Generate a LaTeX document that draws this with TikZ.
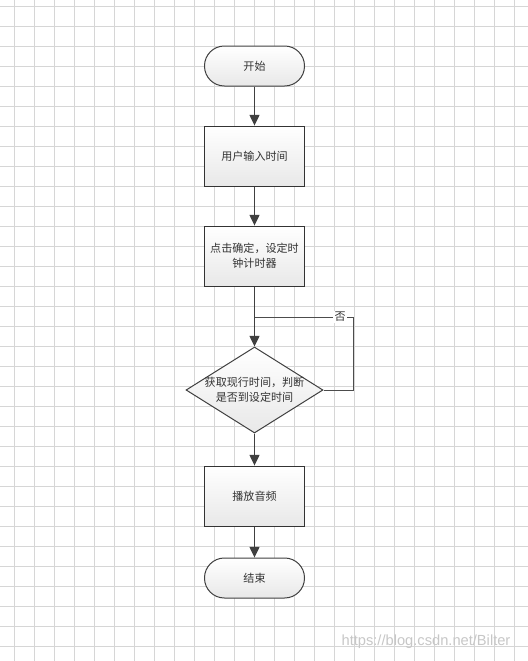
\documentclass[tikz,border=0pt]{standalone}
\usepackage{fontspec}
\newfontfamily\cjk{Noto Sans CJK SC}
\newfontfamily\wmfont{Liberation Sans}
\usetikzlibrary{shapes.geometric,arrows.meta}

\begin{document}
\begin{tikzpicture}[x=0.75pt,y=-0.75pt,
  grid line/.style={draw=black!16, line width=0.75pt},
  flow text/.style={font=\cjk\fontsize{8.3}{11}\selectfont, text=black!80},
  terminal/.style={flow text, draw=black!75, line width=0.75pt, rounded corners=14.9pt,
    minimum width=75pt, minimum height=30pt, inner sep=0pt, top color=white, bottom color=black!9},
  process/.style={flow text, draw=black!80, line width=0.75pt, align=center,
    minimum width=75pt, minimum height=45pt, inner sep=0pt, top color=white, bottom color=black!9},
  decision/.style={diamond, draw=black!75, line width=0.75pt, minimum width=102.75pt,
    minimum height=64.5pt, inner sep=0pt, top color=white, bottom color=black!9},
  line/.style={draw=black!75, line width=1pt},
  thin line/.style={draw=black!70, line width=0.7pt},
  arrow/.style={line, -{Triangle[width=7.5pt,length=8pt]}}]
\useasboundingbox (0,0) rectangle (528,661);
\fill[white] (0,0) rectangle (528,661);
% background grid
\foreach \gx in {14,34,...,514} \draw[grid line] (\gx,0) -- (\gx,661);
\foreach \gy in {6,26,...,646} \draw[grid line] (0,\gy) -- (528,\gy);

\node[terminal] (start) at (254.5,66) {开始};
\node[process] (input) at (254.5,156) {用户输入时间};
\node[process] (timer) at (254.5,256) {点击确定，设定时\\钟计时器};
\node[decision] (check) at (254.5,390) {};
\node[flow text, align=center] (checktext) at (254.5,390) {获取现行时间，判断\\是否到设定时间};
\node[process] (play) at (254.5,496) {播放音频};
\node[terminal] (stop) at (254.5,578) {结束};
\coordinate (joint) at (254.5,317);
\coordinate (loopturn) at (353,317);

\draw[arrow] (start) -- (input);
\draw[arrow] (input) -- (timer);
\draw[arrow] (timer) -- (check);
\draw[thin line] (check.east) -| (loopturn) -- node[pos=0.13, flow text, fill=white, inner sep=1pt] (no) {否} (joint);
\draw[arrow] (check) -- (play);
\draw[arrow] (play) -- (stop);

\node[font=\wmfont\fontsize{11}{13}\selectfont, text=black!22] (watermark) at (426,642) {https://blog.csdn.net/Bilter};
\end{tikzpicture}
\end{document}
